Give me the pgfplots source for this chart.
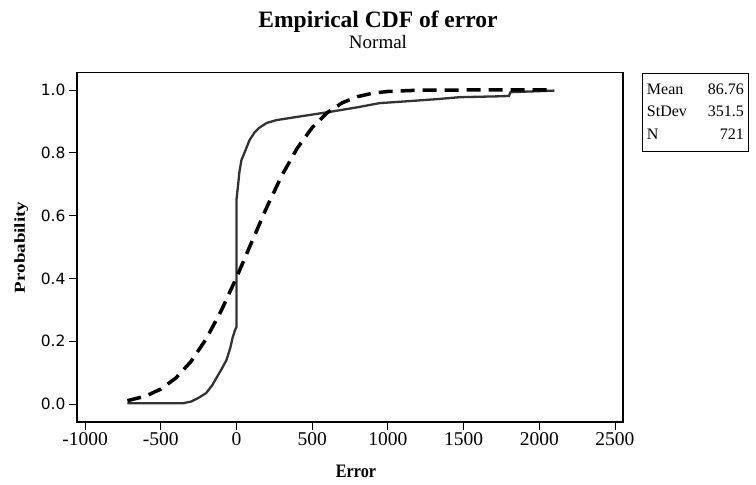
\documentclass[border=0pt]{standalone}
\usepackage{fontspec}
\setmainfont{Liberation Serif}
\newfontfamily\ticksans{DejaVu Sans}
\usepackage{pgfplots}
\pgfplotsset{compat=1.18}

\pgfplotstableread{
x y
-720 0.003
-350 0.003
-300 0.008
-250 0.020
-200 0.035
-160 0.060
-130 0.085
-100 0.110
-66 0.140
-40 0.180
-26 0.210
-10 0.235
0 0.245
0 0.650
7 0.680
20 0.740
33 0.777
53 0.800
86 0.840
120 0.865
152 0.880
200 0.895
264 0.904
396 0.914
614 0.930
800 0.945
944 0.958
1155 0.965
1328 0.971
1473 0.977
1750 0.980
1800 0.981
1810 0.993
2100 0.998
}\ecdf

% fitted normal, mean 86.76, stdev 351.5
\pgfplotstableread{
x y
-720 0.0108
-600 0.0254
-500 0.0476
-400 0.0830
-300 0.1357
-200 0.2073
-100 0.2977
0 0.4025
100 0.5150
200 0.6263
300 0.7280
400 0.8136
500 0.8802
600 0.9279
700 0.9595
800 0.9788
900 0.9897
1000 0.9953
1200 0.9992
1500 0.99995
2100 1.0000
}\normalfit

\begin{document}
\begin{tikzpicture}[x=1pt,y=1pt]
\useasboundingbox (-77,-63) rectangle (679,422);
\begin{axis}[
  scale only axis,
  width=546pt, height=349.3pt,
  xmin=-1053, xmax=2553,
  ymin=-0.057, ymax=1.055,
  axis line style={line width=1.1pt},
  tick align=outside,
  xtick pos=bottom, ytick pos=left,
  major tick length=8pt,
  tick style={line width=0.9pt, black},
  xtick={-1000,-500,0,500,1000,1500,2000,2500},
  xticklabels={-1000,-500,0,500,1000,1500,2000,2500},
  ytick={0,0.2,0.4,0.6,0.8,1},
  yticklabels={0.0,0.2,0.4,0.6,0.8,1.0},
  xticklabel style={font=\fontsize{19.5}{20}\selectfont, yshift=1pt},
  yticklabel style={font=\ticksans\fontsize{15.5}{16}\selectfont},
]
\addplot[line width=2.3pt, color=black!80] table {\ecdf};
\addplot[line width=3.5pt, black, dash pattern=on 14pt off 8pt] table {\normalfit};
\end{axis}

\node[anchor=base, font=\bfseries\fontsize{23.5}{25}\selectfont] at (301,394.7) {Empirical CDF of error};
\node[anchor=base, font=\fontsize{19}{20}\selectfont] at (301,373) {Normal};
\node[anchor=base, xscale=0.85, font=\bfseries\fontsize{19}{20}\selectfont] at (279,-56) {Error};
\node[anchor=base, xscale=0.8, rotate=90, font=\bfseries\fontsize{19}{20}\selectfont] at (-52,174.6) {Probability};

\node[draw, line width=0.9pt, anchor=north west, inner xsep=4.5pt, inner ysep=5.5pt,
      font=\fontsize{16}{22.5}\selectfont] at (565,349.3)
  {\begin{tabular*}{97pt}{@{}l@{\extracolsep{\fill}}r@{}}
   Mean & 86.76\\
   StDev & 351.5\\
   N & 721
   \end{tabular*}};
\end{tikzpicture}
\end{document}
